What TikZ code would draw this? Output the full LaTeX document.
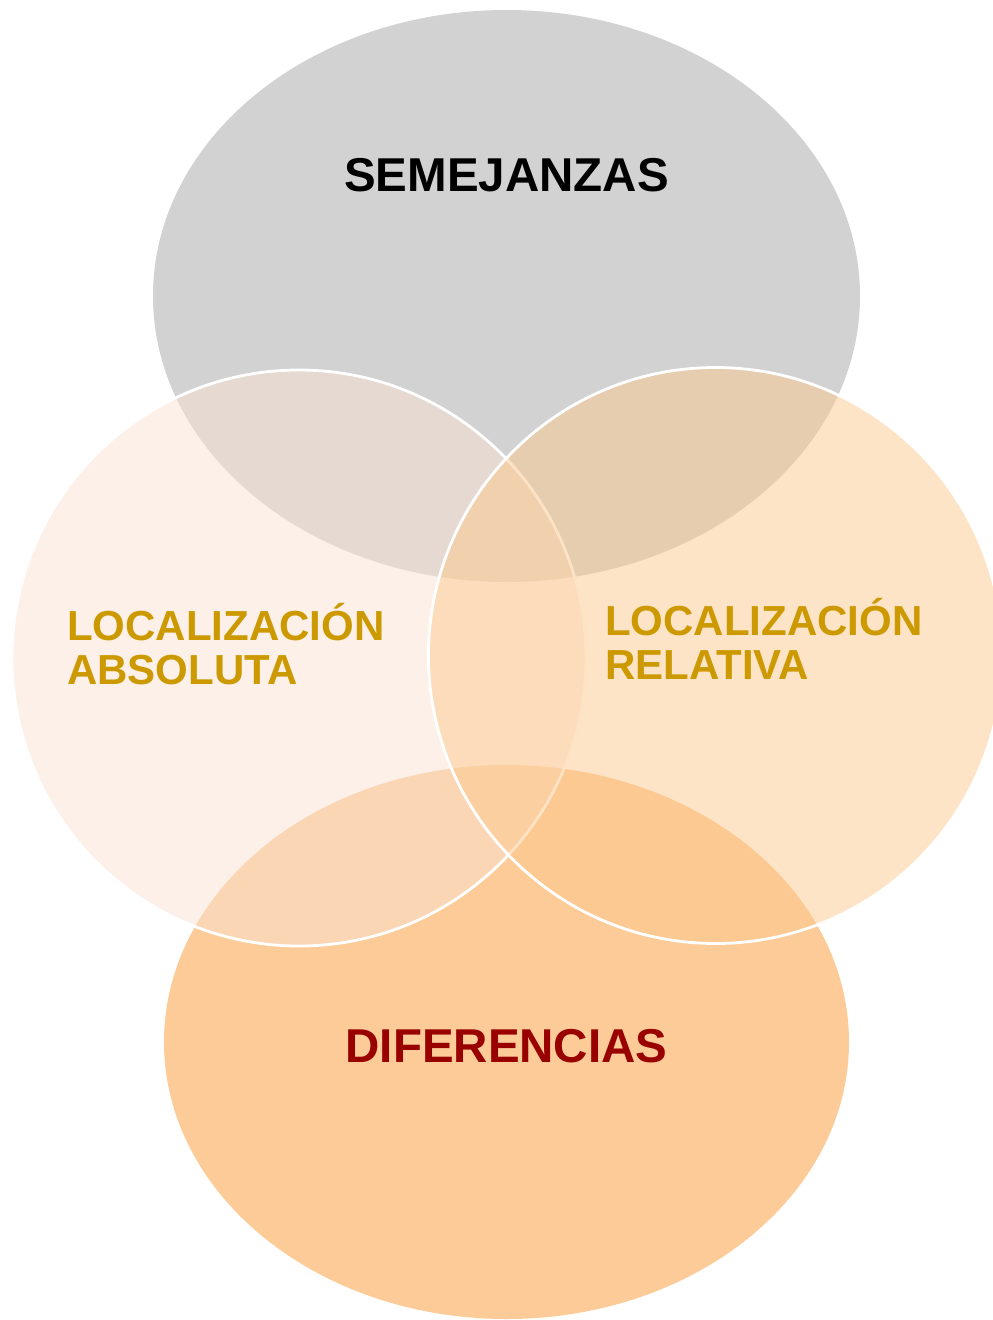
\documentclass[tikz,border=0pt]{standalone}
\usepackage{fontspec}
\setmainfont{Liberation Sans}
\definecolor{topgray}{RGB}{210,210,210}
\definecolor{leftfill}{RGB}{249,225,209}
\definecolor{rightfill}{RGB}{253,201,141}
\definecolor{bottomfill}{RGB}{252,203,152}
\definecolor{goldtext}{RGB}{204,153,0}
\definecolor{redtext}{RGB}{153,0,0}
\begin{document}
\begin{tikzpicture}[x=1pt,y=-1pt,
  bigfont/.style={font=\fontsize{47.5}{54}\selectfont\bfseries, inner sep=0pt},
  sidefont/.style={font=\fontsize{42}{44}\selectfont\bfseries, inner sep=0pt, align=left, text=goldtext},
  sidecircle/.style={fill opacity=0.5, draw=white, line width=2.8pt}]
\useasboundingbox (0,0) rectangle (993,1320);
\begin{scope}
\clip (0,0) rectangle (993,1320);
\fill[topgray] (506.5,296) ellipse [x radius=353.5, y radius=286];
\fill[bottomfill] (506.5,1042) ellipse [x radius=342.5, y radius=277];
\filldraw[sidecircle, fill=leftfill] (299,658) ellipse [x radius=287, y radius=288];
\filldraw[sidecircle, fill=rightfill] (715.5,655.5) ellipse [x radius=287, y radius=288];
\end{scope}
\node[bigfont, anchor=base] (sem) at (506.5,191) {SEMEJANZAS};
\node[bigfont, anchor=base, text=redtext] (dif) at (506.5,1062) {DIFERENCIAS};
\node[sidefont, anchor=base west] (abs) at (67,684) {LOCALIZACIÓN\\ABSOLUTA};
\node[sidefont, anchor=base west] (rel) at (605,679) {LOCALIZACIÓN\\RELATIVA};
\end{tikzpicture}
\end{document}
